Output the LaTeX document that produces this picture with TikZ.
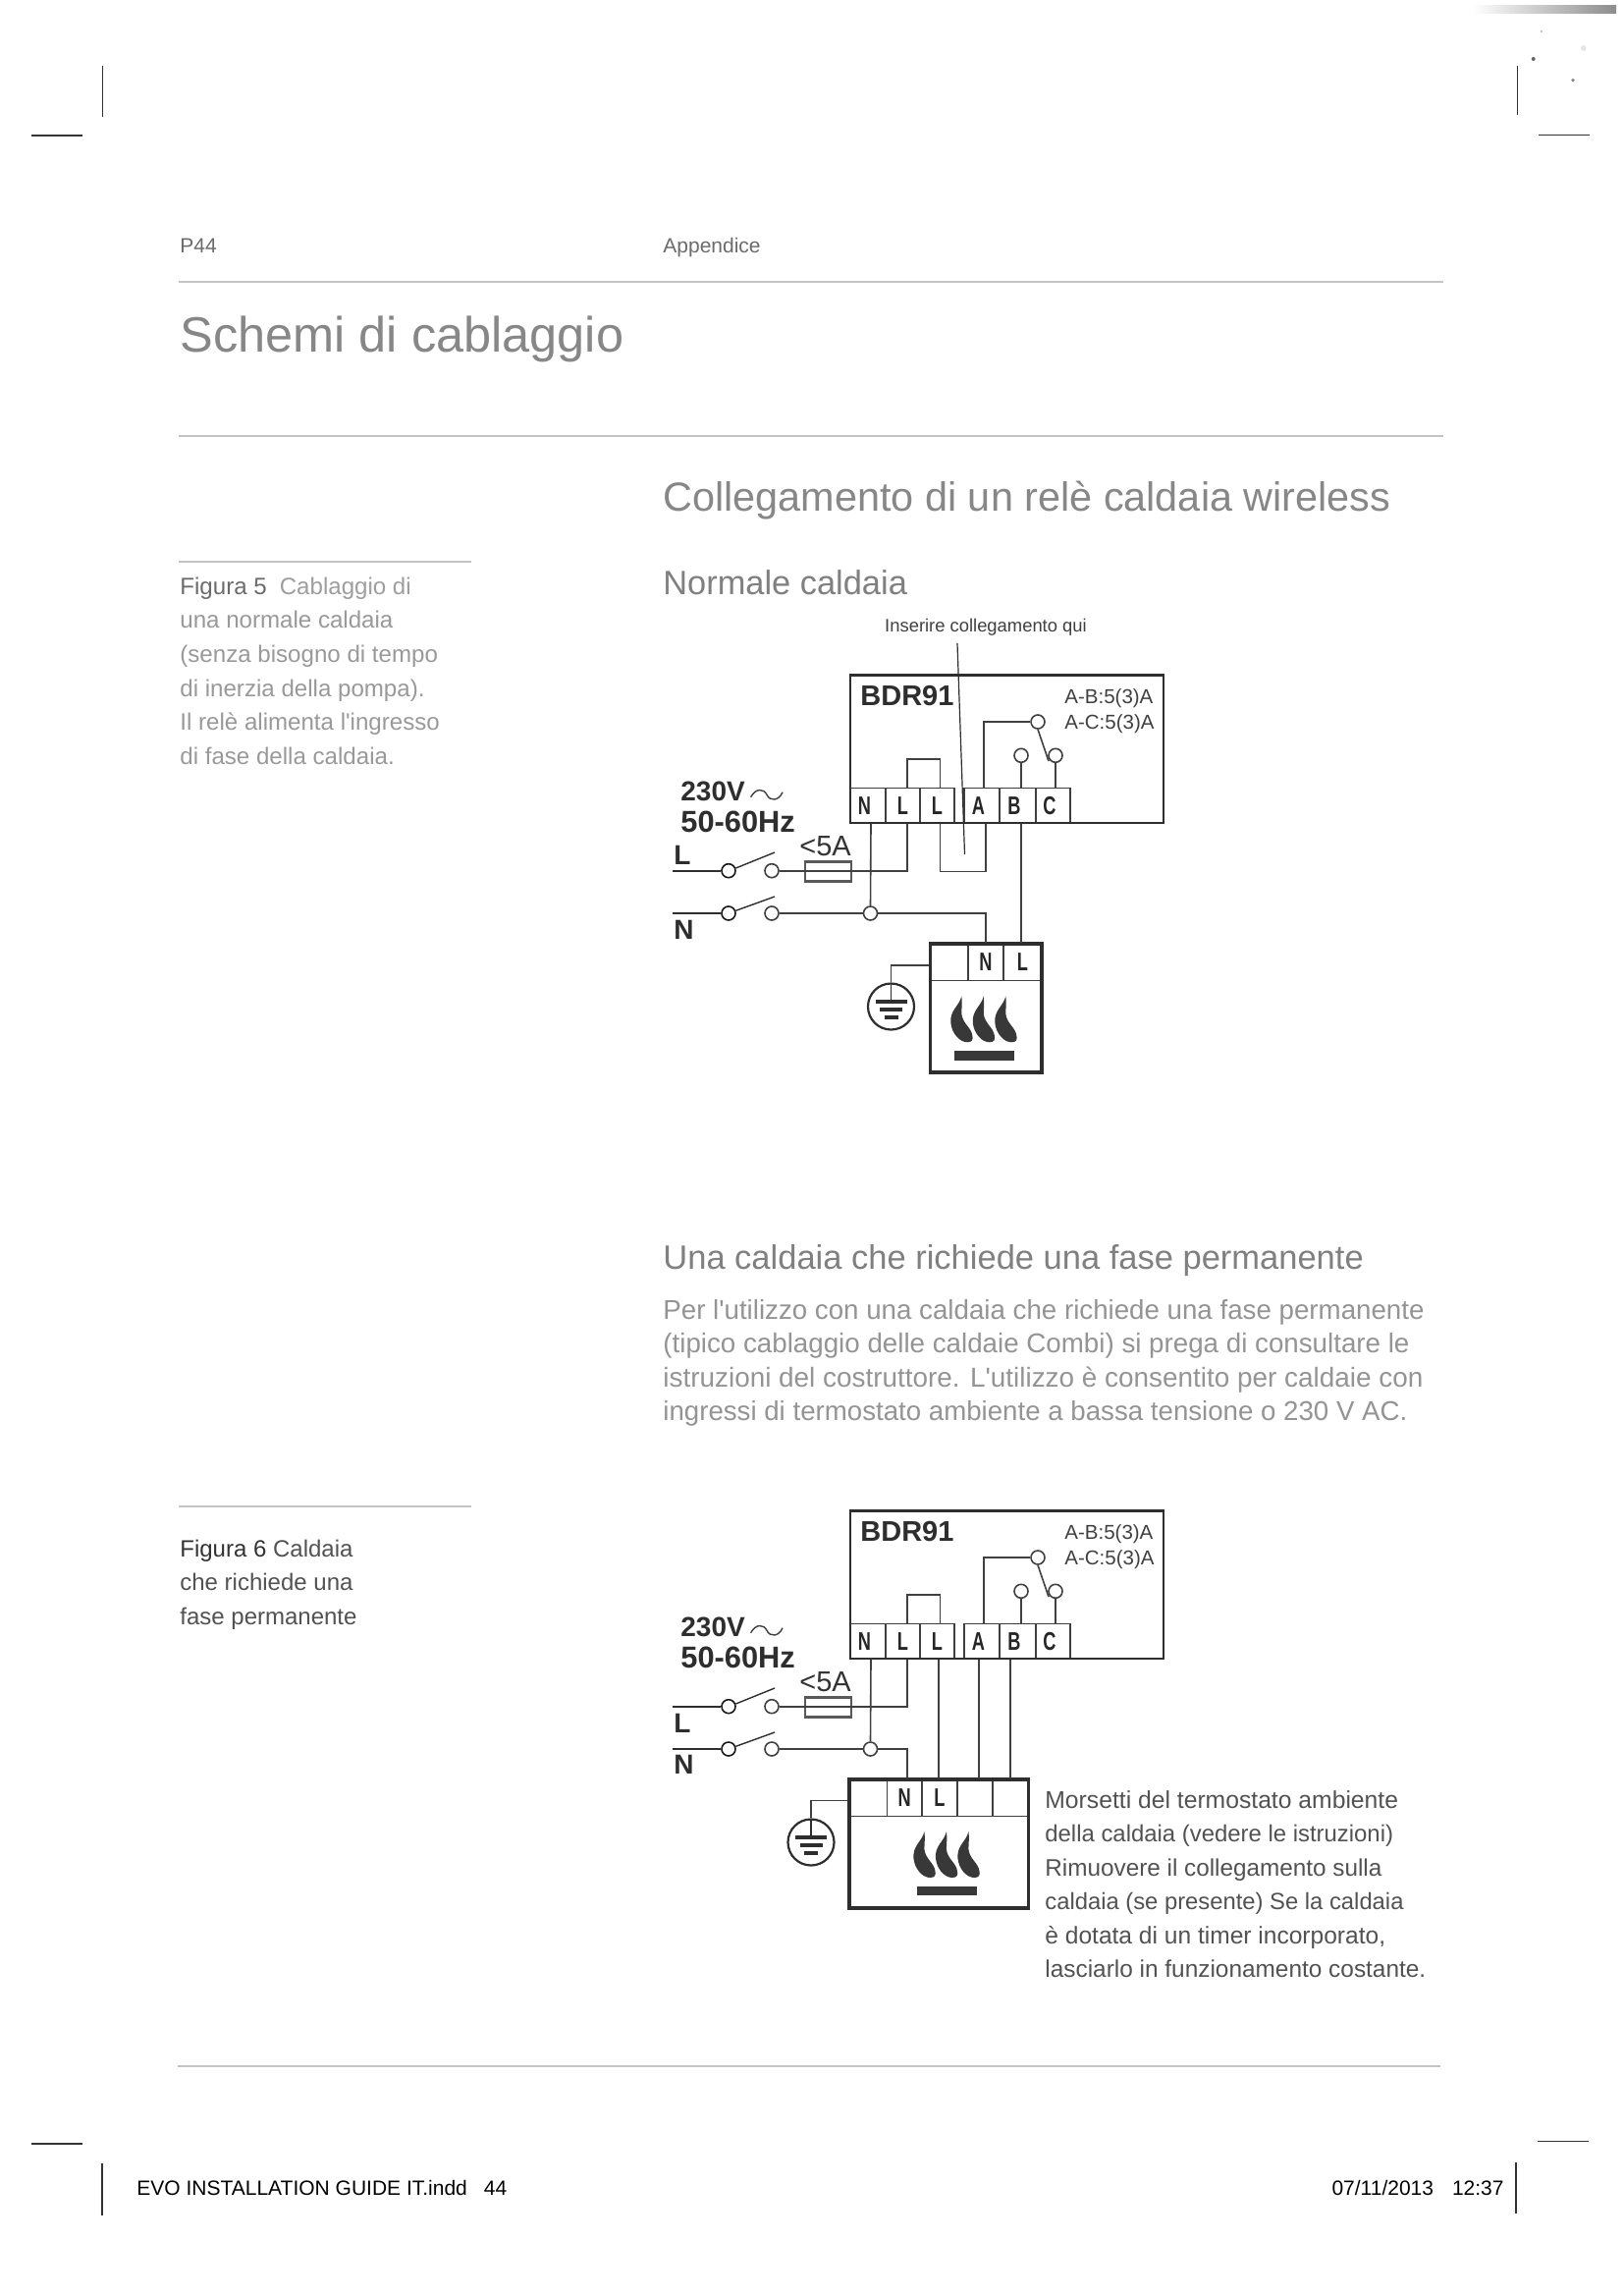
\documentclass[tikz,border=0pt]{standalone}
\usepackage{fontspec}
\usetikzlibrary{calc}
\newfontfamily\arial{Liberation Sans}
\newfontfamily\arialn[FakeStretch=0.7]{Liberation Sans}
\newcommand\fnt[1]{\arial\fontsize{#1}{#1}\selectfont}
\newcommand\lft[1]{#1\kern3.5pt}
\definecolor{ink}{gray}{0.18}
\definecolor{wire}{gray}{0.25}
\tikzset{
  txt/.style={inner sep=0pt,anchor=base west,text=#1},
  txt/.default=black,
  rulel/.style={draw=black!23,line width=0.9pt},
  cropmark/.style={draw=black!80,line width=0.6pt},
  wirel/.style={draw=wire,line width=0.8pt},
  cterm/.style={draw=wire,fill=white,circle,inner sep=0pt,minimum size=7pt,line width=0.8pt},
  cdark/.style={cterm,draw=black!90},
  term/.style={draw=wire,line width=0.6pt,inner sep=0pt,minimum height=#1,
     font=\arialn\bfseries\fontsize{13}{13}\selectfont,text=black!85},
  term/.default=17.9pt,
  bigbox/.style={draw=ink,line width=1.3pt,inner sep=0pt,fill=none},
  boilbox/.style={draw=ink,line width=1.8pt,inner sep=0pt,fill=none},
  gcirc/.style={draw=ink,circle,inner sep=0pt,minimum size=23.5pt,line width=1.1pt},
  fuse/.style={draw=black!65,line width=1.3pt,inner sep=0pt,minimum width=23.5pt,minimum height=10pt,fill=none},
  flame/.style={fill=black!78,draw=none},
  barb/.style={fill=black!78,draw=none}
}
% relay block, left supply text, fuse and switches; #1 prefix, #2 vertical offset
\newcommand\relayunit[2]{%
\begin{scope}[shift={(0,#2)}]
  \node[term,minimum width=18pt] (#1N) at (884,820.2) {\lft{N}};
  \node[term,minimum width=17.5pt] (#1La) at (919.5,820.2) {L};
  \node[term,minimum width=17.5pt] (#1Lb) at (954.5,820.2) {L};
  \node[term,minimum width=18pt] (#1A) at (1000,820.2) {\lft{A}};
  \node[term,minimum width=18.5pt] (#1B) at (1036.5,820.2) {\lft{B}};
  \node[term,minimum width=17.5pt] (#1C) at (1072.5,820.2) {\lft{C}};
  \node[bigbox,minimum width=159.5pt,minimum height=75.4pt] (#1box) at (1025.5,762.7) {};
  \node[txt=ink,font=\fnt{14.5}\bfseries] (#1name) at (876,718.3) {BDR91};
  \node[txt=black!75,font=\fnt{10.25}] (#1rab) at (1084,716.7) {A-B:5(3)A};
  \node[txt=black!75,font=\fnt{10.25}] (#1rac) at (1084,742.7) {A-C:5(3)A};
  \node[cterm] (#1ca) at (1057,735) {};
  \node[cterm] (#1cb) at (1040,769.3) {};
  \node[cterm] (#1cc) at (1075,769.3) {};
  \coordinate (#1swend) at (1068,775);
  \draw[wirel] ([xshift=1pt]#1A.north) |- (#1ca.west);
  \draw[wirel] (#1cb.south) -- (#1B.north -| #1cb);
  \draw[wirel] (#1cc.south) -- (#1C.north -| #1cc);
  \draw[wirel] (#1ca.south) -- (#1swend);
  \coordinate (#1lk) at (941,772.7);
  \draw[wirel] ([xshift=2.25pt]#1La.north) |- (#1lk) -| ([xshift=1.5pt]#1Lb.north);
  \node[txt=ink,font=\fnt{14}\bfseries] (#1volt) at (693,815) {230V};
  \draw[wirel,line width=0.7pt] (764.6,811.7) .. controls (770,802) and (778,803) .. (781,809.3) .. controls (784,816) and (793,816) .. (797,806.7);
  \node[txt=ink,font=\fnt{15.4}\bfseries] (#1hz) at (693,847) {50-60Hz};
  \node[txt=black!80,font=\fnt{14.5}] (#1amp) at (814,871.7) {<5A};
  \node[fuse] (#1fuse) at (843.5,887.3) {};
  \node[cdark] (#1c1) at (742,886.7) {};
  \node[cterm] (#1c2) at (786,886.7) {};
  \node[cdark] (#1c3) at (742,930) {};
  \node[cterm] (#1c4) at (786,930) {};
  \node[cterm] (#1j) at (886.5,930) {};
  \coordinate (#1Lin) at (685,886.7);
  \coordinate (#1Nin) at (685,930);
  \coordinate (#1arm1) at (789,868);
  \coordinate (#1arm2) at (789,913);
  \draw[draw=ink,line width=0.9pt] (#1Lin) -- (#1c1.west);
  \draw[draw=ink,line width=0.9pt] (#1Nin) -- (#1c3.west);
  \draw[draw=ink,line width=0.7pt] (#1c1.20) -- (#1arm1);
  \draw[draw=ink,line width=0.7pt] (#1c3.20) -- (#1arm2);
  \draw[wirel] (#1c2.east) -| ([xshift=2.25pt]#1La.south);
  \draw[wirel] (#1c4.east) -- (#1j.west);
  \draw[wirel] ([xshift=1.5pt]#1N.south) -- (#1j.north);
\end{scope}}
\newcommand\flames[3]{%
\begin{scope}[shift={(#2,#3)}]
  \foreach \dx in {0,22.5,45}{
    \fill[flame,shift={(\dx,0)}] (0,0) .. controls (-2,10) and (-12,14) .. (-11,27)
      .. controls (-10,38) and (-2,47) .. (6,47) .. controls (11,47) and (12,44) .. (11,40)
      .. controls (10,32) and (1,28) .. (0,18) .. controls (0,12) and (1,6) .. (0,0) -- cycle;
  }
\end{scope}}
\newcommand\groundbars[1]{%
\begin{scope}[shift={(#1.center)}]
  \draw[draw=ink,line width=0.8pt] (0,-23) -- (0,-5);
  \draw[draw=ink,line width=1.6pt] (-16,-5) -- (16,-5);
  \draw[draw=ink,line width=1.9pt] (-11.5,2.7) -- (11.5,2.7);
  \draw[draw=ink,line width=1.9pt] (-7,10.7) -- (7,10.7);
\end{scope}}
\begin{document}
\begin{tikzpicture}[x=0.5pt,y=-0.5pt]
\path[fill=white,use as bounding box] (0,0) rectangle (1653,2337);

% crop marks
\coordinate (m1a) at (104.6,66.7); \coordinate (m1b) at (104.6,119);
\coordinate (m2a) at (32,138); \coordinate (m2b) at (84,138);
\coordinate (m3a) at (1545.7,66.7); \coordinate (m3b) at (1545.7,117);
\coordinate (m4a) at (1566.7,137.7); \coordinate (m4b) at (1619,137.7);
\coordinate (m5a) at (32,2183); \coordinate (m5b) at (84,2183);
\coordinate (m6a) at (1565.5,2180.7); \coordinate (m6b) at (1618,2180.7);
\coordinate (m7a) at (104,2202.7); \coordinate (m7b) at (104,2255.7);
\coordinate (m8a) at (1544,2201.7); \coordinate (m8b) at (1544,2254);
\foreach \i in {1,...,8} \draw[cropmark] (m\i a) -- (m\i b);

% scanner smear and specks
\shade[left color=white,right color=black!45,draw=none] (1500,6) rectangle (1646,14);
\fill[black!60] (1561.7,60) circle (1pt);
\fill[black!50] (1602,81.7) circle (0.9pt);
\fill[black!25] (1570,32) circle (0.7pt);
\fill[black!10] (1612.7,49) circle (1.4pt);

% header
\node[txt=black!58,font=\fnt{10.5}] (p44) at (183,258) {P44};
\node[txt=black!58,font=\fnt{10.5}] (app) at (675,258) {Appendice};
\draw[rulel] (182,287) -- (1470,287);
\node[txt=black!47,font=\fnt{25.25}] (title) at (183,359) {Schemi di cablaggio};
\draw[rulel] (182,444) -- (1470,444);
\node[txt=black!47,font=\fnt{20.7}] (h1) at (675,520) {Collegamento di un relè caldaia wireless};
\node[txt=black!50,font=\fnt{17.2}] (h2) at (675,605) {Normale caldaia};

% caption 5
\draw[rulel] (182,571.7) -- (480,571.7);
\node[txt=black!38,font=\fnt{12.05}] (fig5) at (183,605) {\textcolor{black!58}{Figura 5}\hspace{6.5pt}Cablaggio di};
\foreach \t [count=\i] in {{una normale caldaia},{(senza bisogno di tempo},{di inerzia della pompa).},{Il relè alimenta l'ingresso},{di fase della caldaia.}}
  \node[txt=black!40,font=\fnt{12.05}] (capf\i) at (183,605+\i*34.7) {\t};

% diagram 1
\node[txt=black!75,font=\fnt{9.2},anchor=base] (ins) at (1004,643) {Inserire collegamento qui};
\relayunit{a}{0}
\coordinate (apend) at (982.5,870);
\draw[draw=ink,line width=0.6pt] ([xshift=-14.5pt,yshift=-6pt]ins.base) -- (apend);
\coordinate (aloop) at (980,887.3);
\draw[wirel] ([xshift=1.5pt]aLb.south) |- (aloop) -| ([xshift=2pt]aA.south);
\node[txt=ink,font=\fnt{14}\bfseries] (aLt) at (686,880.7) {L};
\node[txt=ink,font=\fnt{14}\bfseries] (aNt) at (686,956.7) {N};
% boiler 1
\node[term=18.8pt,minimum width=19.25pt] (abl) at (966.75,979.5) {};
\node[term=18.8pt,minimum width=18pt] (aN2) at (1004,979.5) {N};
\node[term=18.8pt,minimum width=19.5pt] (aL2) at (1041.5,979.5) {L};
\node[boilbox,minimum width=56.75pt,minimum height=65.5pt] (aboil) at (1004.25,1026.2) {};
\draw[wirel] (aj.east) -| (aN2.north);
\draw[wirel] ([xshift=1.75pt]aB.south) -- ([xshift=1.75pt]aB.south |- aL2.north);
\node[gcirc] (agnd) at (907.5,1025) {};
\draw[wirel] ([yshift=21.75pt]aboil.west) -| (agnd.north);
\groundbars{agnd}
\flames{aflame}{979.3}{1014.3}
\fill[barb] (971.7,1070) rectangle (1033,1080);

% middle text
\node[txt=black!50,font=\fnt{17.25}] (h3) at (675,1292) {Una caldaia che richiede una fase permanente};
\foreach \t/\y/\s [count=\i] in {{Per l'utilizzo con una caldaia che richiede una fase permanente}/1343.3/13.85,{(tipico cablaggio delle caldaie Combi) si prega di consultare le}/1377.7/13.87,{istruzioni del costruttore. L'utilizzo è consentito per caldaie con}/1412.3/13.95,{ingressi di termostato ambiente a bassa tensione o 230 V AC.}/1446.7/13.83}
  \node[txt=black!42,font=\fnt{\s}] (par\i) at (675,\y) {\t};

% caption 6
\draw[rulel] (182,1534) -- (480,1534);
\node[txt=black!68,font=\fnt{12}] (fig6) at (183,1585) {\textcolor{black!80}{Figura 6} Caldaia};
\node[txt=black!68,font=\fnt{12}] (capg1) at (183,1619.3) {che richiede una};
\node[txt=black!68,font=\fnt{12}] (capg2) at (183,1654.3) {fase permanente};

% diagram 2
\relayunit{b}{851}
\node[txt=ink,font=\fnt{14}\bfseries] (bLt) at (686,1764.3) {L};
\node[txt=ink,font=\fnt{14}\bfseries] (bNt) at (686,1806.7) {N};
\node[term=18.8pt,minimum width=19.25pt] (bb1) at (884.25,1830.5) {};
\node[term=18.8pt,minimum width=17.75pt] (bN2) at (921.25,1830.5) {N};
\node[term=18.8pt,minimum width=18pt] (bL2) at (957,1830.5) {L};
\node[term=18.8pt,minimum width=18pt] (bb2) at (993,1830.5) {};
\node[term=18.8pt,minimum width=18.25pt] (bb3) at (1029.25,1830.5) {};
\node[boilbox,minimum width=91.25pt,minimum height=65.5pt] (bboil) at (956.25,1877.2) {};
\draw[wirel] (bj.east) -| ([xshift=1.4pt]bN2.north);
\draw[wirel] ([xshift=.75pt]bLb.south) -- ([xshift=.75pt]bLb.south |- bL2.north);
\draw[wirel] ([xshift=-1.5pt]bA.south) -- ([xshift=-1.5pt]bA.south |- bb2.north);
\draw[wirel] ([xshift=-3.75pt]bB.south) -- ([xshift=-3.75pt]bB.south |- bb3.north);
\node[gcirc] (bgnd) at (826,1876) {};
\draw[wirel] ([yshift=21.95pt]bboil.west) -| (bgnd.north);
\groundbars{bgnd}
\flames{bflame}{941.4}{1865}
\fill[barb] (934,1921) rectangle (995,1930);

% note beside boiler
\foreach \t/\y/\s [count=\i] in {{Morsetti del termostato ambiente}/1841.7/12.35,{della caldaia (vedere le istruzioni)}/1875.7/11.95,{Rimuovere il collegamento sulla}/1910/12.15,{caldaia (se presente) Se la caldaia}/1944.3/11.9,{è dotata di un timer incorporato,}/1979/12.28,{lasciarlo in funzionamento costante.}/2013.3/12.2}
  \node[txt=black!68,font=\fnt{\s}] (note\i) at (1064,\y) {\t};

% footer
\draw[rulel] (181,2104) -- (1467,2104);
\node[txt=black,font=\fnt{10.5}] (foot1) at (139,2235) {EVO INSTALLATION GUIDE IT.indd\hspace{8.5pt}44};
\node[txt=black,font=\fnt{10.5},anchor=base east] (foot2) at (1532,2235) {07/11/2013\hspace{9.5pt}12:37};
\end{tikzpicture}
\end{document}
